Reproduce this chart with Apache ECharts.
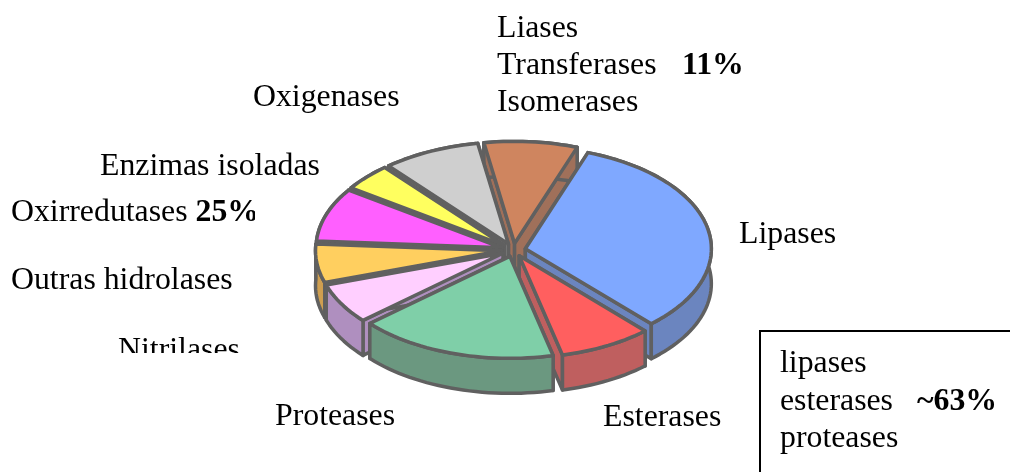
<!DOCTYPE html>
<html lang="pt">
<head>
<meta charset="UTF-8" />
<title>Enzimas</title>
<script src="https://cdn.jsdelivr.net/npm/echarts@6/dist/echarts.min.js"></script>
<style>
  html, body { margin: 0; padding: 0; background: #fff; overflow: hidden; }
  #chart { width: 1010px; height: 472px; }
</style>
</head>
<body>
<div id="chart"></div>
<script>
// slices, clockwise from the top
const categories = ["Liases", "Lipases", "Esterases", "Proteases", "Nitrilases", "Outras hidrolases", "Oxirredutases", "Enzimas isoladas", "Oxigenases"];
const values = [8.1, 32.7, 8.1, 17.3, 6.4, 6.1, 8.5, 4.3, 8.5];
const topColors = ["#cf855f", "#7fa8ff", "#ff5f5f", "#7fcfa8", "#ffcfff", "#ffcf5f", "#ff5fff", "#ffff5f", "#cfcfcf"];
const sideColors = ["#a0705a", "#6b85bf", "#bf5f5f", "#6b9880", "#af8fbf", "#cf9f50", "#bf50bf", "#bfbf50", "#9f9f9f"];
const topGroup = ["Liases", "Transferases", "Isomerases"];
const boxGroup = ["lipases", "esterases", "proteases"];
const percentages = ["11%", "25%", "~63%"];

const cx = 513.5, cy = 250, rx = 186, ry = 102, depth = 35, explode = 0.065, startDeg = -9.5;
const serif = "'Liberation Serif', 'Times New Roman', serif";
const fontSize = 31.8;
const outline = "#606060";

const total = values.reduce((a, b) => a + b, 0);
const starts = [];
let run = startDeg;
values.forEach((v) => { starts.push(run); run += v / total * 360; });

// back slices are painted first
const mids = values.map((v, i) => starts[i] + v / total * 180);
const order = values.map((v, i) => i).sort((a, b) => Math.cos(mids[b] * Math.PI / 180) - Math.cos(mids[a] * Math.PI / 180));

function ellipsePoint(ox, oy, deg) {
  const a = deg * Math.PI / 180;
  return [ox + rx * Math.sin(a), oy - ry * Math.cos(a)];
}

function renderSlice(params, api) {
  const i = params.dataIndex;
  const from = starts[i];
  const to = from + api.value(0) / total * 360;
  const mid = (from + to) / 2 * Math.PI / 180;
  const ox = cx + rx * explode * Math.sin(mid);
  const oy = cy - ry * explode * Math.cos(mid);

  const arc = [];
  for (let d = from; d < to; d += 2) arc.push(ellipsePoint(ox, oy, d));
  arc.push(ellipsePoint(ox, oy, to));
  const down = (p) => [p[0], p[1] + depth];

  const rank = order.indexOf(i) * 10;
  const lineStyle = { stroke: outline, lineWidth: 3.5, lineJoin: "round" };
  const poly = (points, fill, z) => ({
    type: "polygon",
    z2: rank + z,
    shape: { points: points },
    style: Object.assign({ fill: fill }, lineStyle)
  });
  const apex = [ox, oy];
  const first = arc[0];
  const last = arc[arc.length - 1];

  return {
    type: "group",
    children: [
      poly([apex, first, down(first), down(apex)], sideColors[i], 1),
      poly([apex, last, down(last), down(apex)], sideColors[i], 2),
      poly(arc.concat(arc.map(down).reverse()), sideColors[i], 3),
      poly([apex].concat(arc), topColors[i], 4)
    ]
  };
}

function label(text, x, y, bold) {
  return {
    type: "text",
    z: 1,
    z2: 1,
    silent: true,
    style: {
      text: text,
      x: x,
      y: y,
      fill: "#000",
      fontFamily: serif,
      fontSize: fontSize,
      fontWeight: bold ? "bold" : "normal",
      verticalAlign: "middle",
      rich: { b: { fontFamily: serif, fontSize: fontSize, fontWeight: "bold", fill: "#000" } }
    }
  };
}

function mask(x, y, w, h) {
  return { type: "rect", z: 1, z2: 5, silent: true, shape: { x: x, y: y, width: w, height: h }, style: { fill: "#fff" } };
}

const chart = echarts.init(document.getElementById("chart"), null, { renderer: "canvas" });
chart.setOption({
  animation: false,
  backgroundColor: "#fff",
  graphic: [
    label(topGroup[0], 497, 29),
    label(topGroup[1], 497, 66),
    label(percentages[0], 682, 66, true),
    label(topGroup[2], 497, 103),
    label(categories[8], 253, 98),
    label(categories[7], 100, 167),
    label(categories[6] + " {b|" + percentages[1] + "}", 11, 213),
    label(categories[5], 11, 281),
    label(categories[4], 118, 351),
    label(categories[1], 739, 235),
    label(categories[3], 275, 417),
    label(categories[2], 603, 418),
    // the reference cuts these two labels off
    mask(255, 190, 40, 45),
    mask(100, 353, 160, 24),
    // box at the lower right, runs off the page
    {
      type: "rect", z: 1, silent: true,
      shape: { x: 760, y: 331, width: 270, height: 170 },
      style: { fill: "#fff", stroke: "#000", lineWidth: 2 }
    },
    Object.assign(label(boxGroup[0], 780, 364), { z2: 6 }),
    Object.assign(label(boxGroup[1], 780, 402), { z2: 6 }),
    Object.assign(label(percentages[2], 917, 402, true), { z2: 6 }),
    Object.assign(label(boxGroup[2], 780, 439), { z2: 6 })
  ],
  series: [{
    type: "custom",
    coordinateSystem: "none",
    z: 2,
    silent: true,
    renderItem: renderSlice,
    data: values.map((v) => [v])
  }]
});
</script>
</body>
</html>
